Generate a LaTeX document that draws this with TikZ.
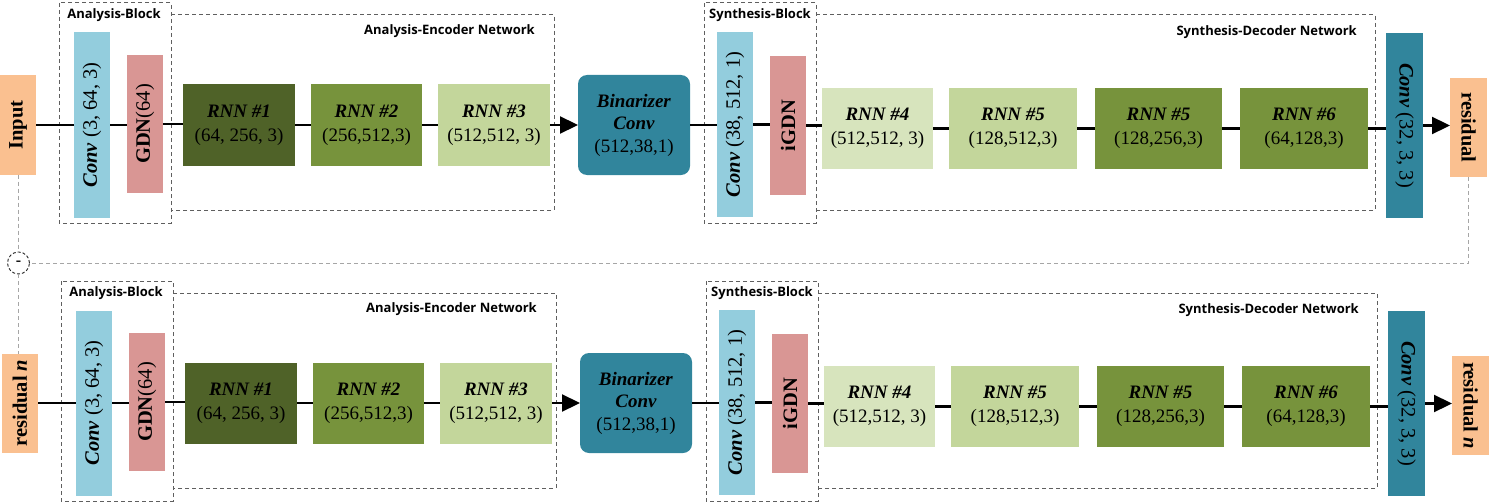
\documentclass[tikz,border=0pt]{standalone}
\usepackage{fontspec}
\usepackage{graphicx}
\setmainfont{Liberation Serif}
\newfontfamily\lblfont{Open Sans}
\usetikzlibrary{arrows.meta}
\definecolor{peach}{HTML}{FAC090}
\definecolor{lblue}{HTML}{93CDDD}
\definecolor{rose}{HTML}{D99694}
\definecolor{dkolive}{HTML}{4F6228}
\definecolor{olive}{HTML}{77933C}
\definecolor{lgreen}{HTML}{C3D69B}
\definecolor{llgreen}{HTML}{D7E4BD}
\definecolor{teal}{HTML}{31859C}
\definecolor{grpgray}{HTML}{5F5F5F}
\definecolor{fbgray}{HTML}{A6A6A6}
\begin{document}
\begin{tikzpicture}[x=1pt,y=-1pt,
  blk/.style={inner sep=0pt, outer sep=0pt, draw=none, align=center, text=black},
  rnn/.style={blk, minimum height=81pt, font=\fontsize{19}{24}\selectfont},
  vert/.style={blk, font=\fontsize{20.5}{24}\selectfont},
  conn/.style={line width=2.2pt, black},
  arr/.style={conn, -{Triangle[length=18pt,width=17pt]}},
  grp/.style={draw=grpgray, line width=1pt, dash pattern=on 4pt off 3pt},
  grplbl/.style={inner sep=0pt, font=\lblfont\bfseries\fontsize{13}{15}\selectfont},
  fb/.style={draw=fbgray, line width=1pt, dash pattern=on 4pt off 3pt}]
\useasboundingbox (0,0) rectangle (1489,503);
\foreach \pr/\sx/\sy/\intxt/\outtxt in {t/0/0/{Input}/{residual}, b/2/278/{residual \textit{n}}/{residual \textit{n}}} {
\begin{scope}[shift={(\sx,\sy)}]
  % group boxes
  \draw[grp] (59,3) rectangle (171,223);
  \node[grplbl] (\pr-abl) at (114,15) {Analysis-Block};
  \draw[grp] (171,15) -- (554,15) -- (554,210) -- (171,210);
  \node[grplbl, anchor=east] (\pr-enl) at (535,31) {Analysis-Encoder Network};
  \draw[grp] (704,3) rectangle (816,223);
  \node[grplbl] (\pr-sbl) at (760,15) {Synthesis-Block};
  \draw[grp] (816,15) -- (1375,15) -- (1375,210) -- (816,210);
  \node[grplbl, anchor=east] (\pr-dnl) at (1357,32) {Synthesis-Decoder Network};
  % blocks
  \node[vert, fill=peach, minimum width=36pt, minimum height=99pt] (\pr-in) at (18,125)
     {\rotatebox{90}{\bfseries \intxt}};
  \node[vert, fill=lblue, minimum width=36pt, minimum height=185pt] (\pr-c1) at (92,125)
     {\rotatebox{90}{\textbf{\textit{Conv}} (3, 64, 3)}};
  \node[vert, fill=rose, minimum width=36pt, minimum height=138pt] (\pr-g1) at (145,124)
     {\rotatebox{90}{\textbf{GDN}(64)}};
  \node[rnn, fill=dkolive, minimum width=112pt] (\pr-r1) at (239,125)
     {\textbf{\textit{RNN \#1}}\\(64, 256, 3)};
  \node[rnn, fill=olive, minimum width=111pt] (\pr-r2) at (366.5,125)
     {\textbf{\textit{RNN \#2}}\\(256,512,3)};
  \node[rnn, fill=lgreen, minimum width=112pt] (\pr-r3) at (494,125)
     {\textbf{\textit{RNN \#3}}\\(512,512, 3)};
  \node[blk, fill=teal, rounded corners=9pt, minimum width=112pt, minimum height=100pt,
        font=\fontsize{19}{22.5}\selectfont] (\pr-bz) at (634,125)
     {\textbf{\textit{Binarizer}}\\\textbf{\textit{Conv}}\\(512,38,1)};
  \node[vert, fill=lblue, minimum width=36pt, minimum height=185pt] (\pr-c2) at (735,124.5)
     {\rotatebox{90}{\textbf{\textit{Conv}} (38, 512, 1)}};
  \node[vert, fill=rose, minimum width=36pt, minimum height=139pt] (\pr-ig) at (788,125.5)
     {\rotatebox{90}{\textbf{iGDN}}};
  \node[rnn, fill=llgreen, minimum width=111pt] (\pr-r4) at (877.5,128.5)
     {\textbf{\textit{RNN \#4}}\\(512,512, 3)};
  \node[rnn, fill=lgreen, minimum width=128pt] (\pr-r5) at (1013,128.5)
     {\textbf{\textit{RNN \#5}}\\(128,512,3)};
  \node[rnn, fill=olive, minimum width=127pt] (\pr-r5b) at (1158.5,128.5)
     {\textbf{\textit{RNN \#5}}\\(128,256,3)};
  \node[rnn, fill=olive, minimum width=128pt] (\pr-r6) at (1304,128.5)
     {\textbf{\textit{RNN \#6}}\\(64,128,3)};
  \node[vert, fill=teal, minimum width=37pt, minimum height=185pt] (\pr-c3) at (1404.5,125.5)
     {\rotatebox{-90}{\textbf{\textit{Conv}} (32, 3, 3)}};
  \node[vert, fill=peach, minimum width=37pt, minimum height=99pt] (\pr-out) at (1468.5,127.5)
     {\rotatebox{-90}{\bfseries \outtxt}};
  % connectors
  \draw[conn] (\pr-in.east) -- (\pr-in.east -| \pr-c1.west);
  \draw[conn] (\pr-c1.east) -- (\pr-c1.east -| \pr-g1.west);
  \draw[conn] (\pr-g1.east) -- (\pr-g1.east -| \pr-r1.west);
  \draw[conn] (\pr-r1.east) -- (\pr-r2.west);
  \draw[conn] (\pr-r2.east) -- (\pr-r3.west);
  \draw[arr] (\pr-r3.east) -- (\pr-bz.west);
  \draw[conn] (\pr-bz.east) -- (\pr-bz.east -| \pr-c2.west);
  \draw[conn] (\pr-c2.east) -- (\pr-c2.east -| \pr-ig.west);
  \draw[conn] (\pr-ig.east) -- (\pr-ig.east -| \pr-r4.west);
  \draw[conn] (\pr-r4.east) -- (\pr-r5.west);
  \draw[conn] (\pr-r5.east) -- (\pr-r5b.west);
  \draw[conn] (\pr-r5b.east) -- (\pr-r6.west);
  \draw[conn] (\pr-r6.east) -- (\pr-r6.east -| \pr-c3.west);
  \draw[arr] (\pr-c3.east) -- (\pr-c3.east -| \pr-out.west);
\end{scope}
}
% feedback / difference
\node[circle, draw=black!85, line width=0.9pt, dash pattern=on 3pt off 2pt, minimum size=22pt,
      inner sep=0pt, font=\bfseries\fontsize{16}{16}\selectfont] (minus) at (18.5,263) {-};
\draw[fb] (t-in.south) -- (t-in.south |- minus.north);
\draw[fb] (t-out.south) |- (minus.east);
\draw[fb] (minus.south) -- (minus.south |- b-in.north);
\end{tikzpicture}
\end{document}
